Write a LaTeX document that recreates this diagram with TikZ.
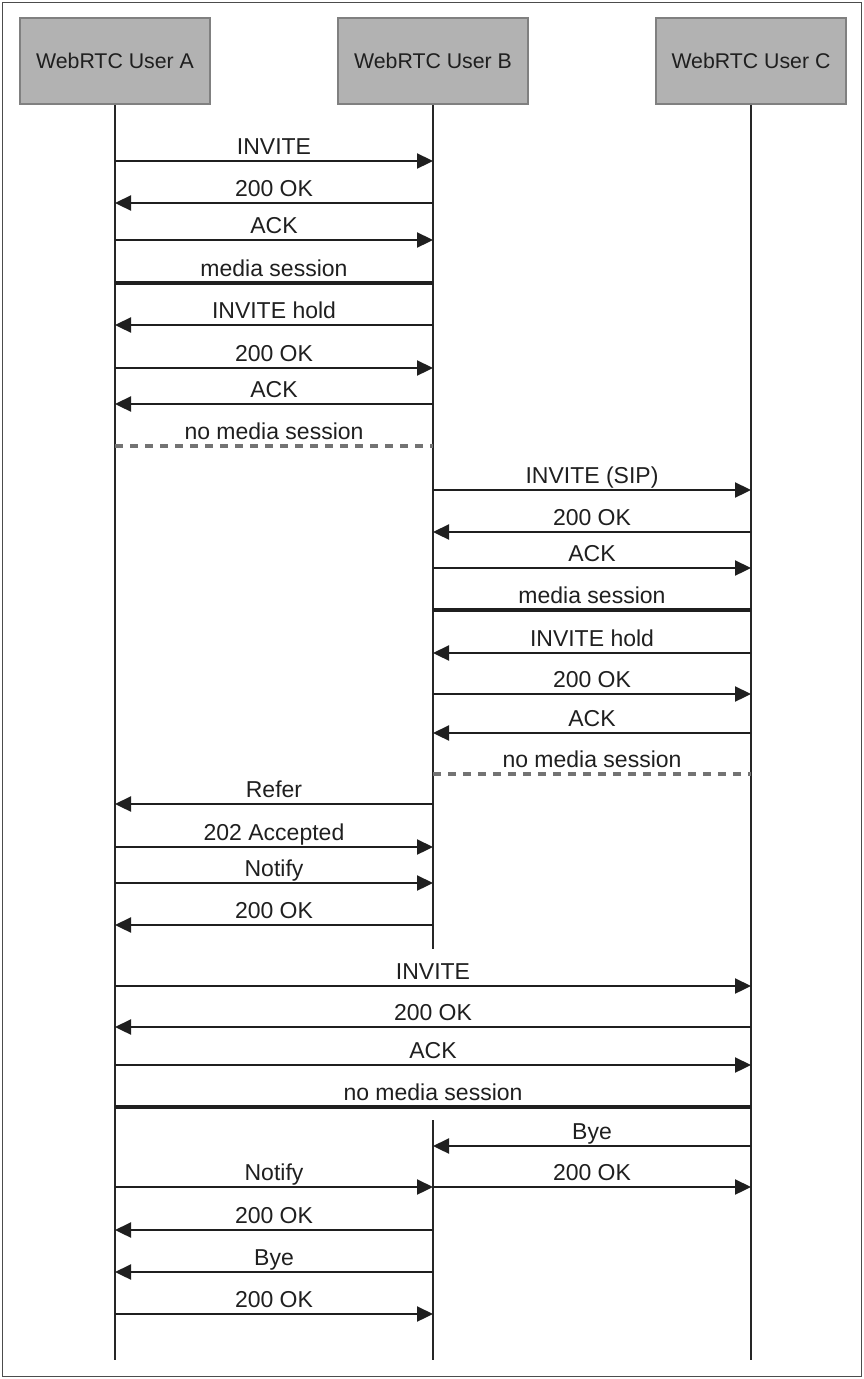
\documentclass[tikz,border=0pt]{standalone}
\usepackage{fontspec}
\setmainfont{Liberation Sans}
\usepackage{tikz}
\usetikzlibrary{arrows.meta}

\begin{document}
\begin{tikzpicture}[x=1pt, y=-1pt, font=\fontsize{23}{27}\selectfont,
  actor/.style={rectangle, draw=black!50, line width=1.5pt, fill=black!30,
                minimum width=190pt, minimum height=86pt, inner sep=0pt,
                font=\fontsize{21.3}{25}\selectfont, text=black!88},
  life/.style={draw=black!85, line width=1.7pt},
  msg/.style={draw=black!88, line width=2.3pt, -{Triangle[length=16pt,width=15pt]}},
  sess/.style={draw=black!88, line width=3.3pt},
  nosess/.style={draw=black!55, line width=3.3pt, dash pattern=on 8pt off 7pt},
  lbl/.style={anchor=base, yshift=7pt, inner sep=0pt, text=black!88}]

  \useasboundingbox (0,0) rectangle (864,1379);
  \draw[black!70, line width=1.8pt] (2.5,2.5) rectangle (861.5,1376.5);

  % participants and lifelines
  \node[actor] (A) at (115,61) {WebRTC User A};
  \node[actor] (B) at (433,61) {WebRTC User B};
  \node[actor] (C) at (751,61) {WebRTC User C};
  \coordinate (Aend) at (115,1360);
  \coordinate (Bgap) at (433,949);
  \coordinate (Bback) at (433,1120);
  \coordinate (Bend) at (433,1360);
  \coordinate (Cend) at (751,1360);
  \draw[life] (A.south) -- (Aend);
  \draw[life] (B.south) -- (Bgap);
  \draw[life] (Bback) -- (Bend);
  \draw[life] (C.south) -- (Cend);

  % A -- B call, then hold
  \draw[msg] (A |- 0,161) -- (B |- 0,161) node[midway, lbl] {INVITE};
  \draw[msg] (B |- 0,203) -- (A |- 0,203) node[midway, lbl] {200 OK};
  \draw[msg] (A |- 0,240) -- (B |- 0,240) node[midway, lbl] {ACK};
  \draw[sess] (A |- 0,283) -- (B |- 0,283) node[midway, lbl] {media session};
  \draw[msg] (B |- 0,325) -- (A |- 0,325) node[midway, lbl] {INVITE hold};
  \draw[msg] (A |- 0,368) -- (B |- 0,368) node[midway, lbl] {200 OK};
  \draw[msg] (B |- 0,404) -- (A |- 0,404) node[midway, lbl] {ACK};
  \draw[nosess] (A |- 0,446) -- (B |- 0,446) node[midway, lbl] {no media session};

  % B -- C call, then hold
  \draw[msg] (B |- 0,490) -- (C |- 0,490) node[midway, lbl] {INVITE (SIP)};
  \draw[msg] (C |- 0,532) -- (B |- 0,532) node[midway, lbl] {200 OK};
  \draw[msg] (B |- 0,568) -- (C |- 0,568) node[midway, lbl] {ACK};
  \draw[sess] (B |- 0,610) -- (C |- 0,610) node[midway, lbl] {media session};
  \draw[msg] (C |- 0,653) -- (B |- 0,653) node[midway, lbl] {INVITE hold};
  \draw[msg] (B |- 0,694) -- (C |- 0,694) node[midway, lbl] {200 OK};
  \draw[msg] (C |- 0,733) -- (B |- 0,733) node[midway, lbl] {ACK};
  \draw[nosess] (B |- 0,774) -- (C |- 0,774) node[midway, lbl] {no media session};

  % transfer
  \draw[msg] (B |- 0,804) -- (A |- 0,804) node[midway, lbl] {Refer};
  \draw[msg] (A |- 0,847) -- (B |- 0,847) node[midway, lbl] {202 Accepted};
  \draw[msg] (A |- 0,883) -- (B |- 0,883) node[midway, lbl] {Notify};
  \draw[msg] (B |- 0,925) -- (A |- 0,925) node[midway, lbl] {200 OK};

  % A -- C call
  \draw[msg] (A |- 0,986) -- (C |- 0,986) node[midway, lbl] {INVITE};
  \draw[msg] (C |- 0,1027) -- (A |- 0,1027) node[midway, lbl] {200 OK};
  \draw[msg] (A |- 0,1065) -- (C |- 0,1065) node[midway, lbl] {ACK};
  \draw[sess] (A |- 0,1107) -- (C |- 0,1107) node[midway, lbl] {no media session};

  % teardown
  \draw[msg] (C |- 0,1146) -- (B |- 0,1146) node[midway, lbl] {Bye};
  \draw[msg] (A |- 0,1187) -- (B |- 0,1187) node[midway, lbl] {Notify};
  \draw[msg] (B |- 0,1187) -- (C |- 0,1187) node[midway, lbl] {200 OK};
  \draw[msg] (B |- 0,1230) -- (A |- 0,1230) node[midway, lbl] {200 OK};
  \draw[msg] (B |- 0,1272) -- (A |- 0,1272) node[midway, lbl] {Bye};
  \draw[msg] (A |- 0,1314) -- (B |- 0,1314) node[midway, lbl] {200 OK};
\end{tikzpicture}
\end{document}
